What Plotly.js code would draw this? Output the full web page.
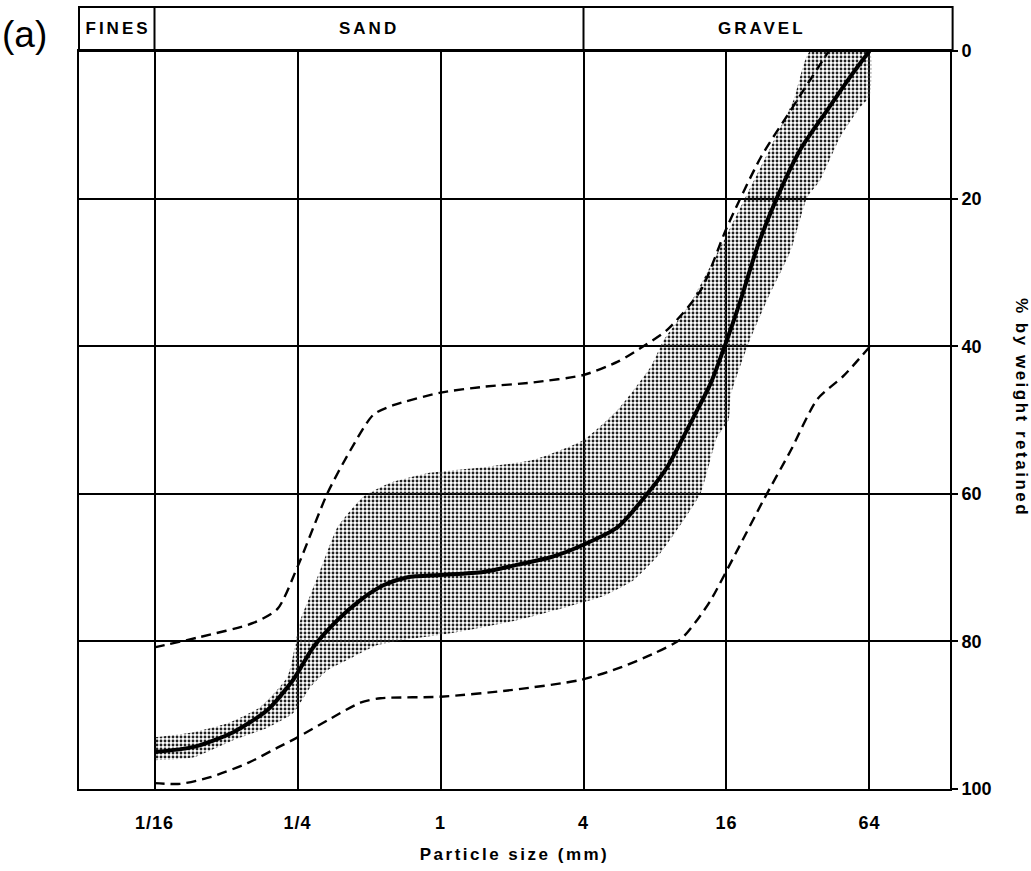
<!DOCTYPE html>
<html>
<head>
<meta charset="utf-8">
<script src="https://cdn.plot.ly/plotly-3.0.1.min.js"></script>
<style>
  html, body { margin: 0; padding: 0; background: #fff; }
  #chart { width: 1031px; height: 871px; }
  g.annotation[data-index="1"] text,
  g.annotation[data-index="2"] text,
  g.annotation[data-index="3"] text { letter-spacing: 3px; }
  g.annotation[data-index="4"] text { letter-spacing: 2.5px; }
  .g-xtitle text { letter-spacing: 2.5px; }
  .xtick text { letter-spacing: 1px; }
</style>
</head>
<body>
<div id="chart"></div>
<script>
// ---- Data (particle size in mm, % by weight retained) ----
const tickVals = [0.0625, 0.25, 1, 4, 16, 64];
const tickText = ['1/16', '1/4', '1', '4', '16', '64'];
const pctTicks = [0, 20, 40, 60, 80, 100];

const sizeClasses = ['FINES', 'SAND', 'GRAVEL'];

// median grading curve (solid)
const medianX = [0.0625, 0.0915, 0.134, 0.1868, 0.2398, 0.2912, 0.3686, 0.4601, 0.5743, 0.727, 1, 1.516, 2.114, 2.908, 4, 5.579, 7.464, 9.0, 11.63, 13.74, 15.89, 18.38, 21.56, 26.17, 32.67, 42.52, 53.08, 64];
const medianY = [95.0, 94.3, 92.3, 89.3, 85.2, 80.8, 77.1, 74.4, 72.4, 71.3, 71.0, 70.6, 69.6, 68.6, 66.9, 64.5, 59.9, 56.4, 49.6, 45.0, 39.6, 33.7, 26.6, 19.8, 13.4, 8.0, 3.5, 0];

// fine envelope (dashed, upper-left)
const fineX = [0.0625, 0.0974, 0.1627, 0.2059, 0.25, 0.3345, 0.4175, 0.5212, 0.6329, 1, 1.516, 2.462, 4, 5.579, 7.311, 9.0, 12.47, 16.11, 22.32, 29.86, 43.11];
const fineY = [80.8, 79.4, 77.5, 75.6, 69.9, 59.9, 54.1, 49.3, 48.0, 46.3, 45.5, 44.9, 43.9, 42.1, 39.8, 37.8, 32.4, 23.8, 14.4, 8.0, 0];

// coarse envelope (dashed, lower-right)
const coarseX = [0.0625, 0.0802, 0.1073, 0.1539, 0.2059, 0.25, 0.3345, 0.4601, 0.5586, 1, 1.973, 3.918, 5.657, 7.835, 10.27, 12.04, 13.74, 17.8, 22.94, 29.86, 38.58, 49.87, 64];
const coarseY = [99.2, 99.3, 98.4, 96.5, 94.4, 93.0, 90.7, 88.3, 87.7, 87.5, 86.6, 85.2, 83.6, 81.7, 79.7, 77.1, 74.4, 67.6, 60.8, 54.1, 47.2, 44.0, 40.1];

// stippled band: upper (finer) edge
const bandTopX = [0.0625, 0.0915, 0.1267, 0.1743, 0.2269, 0.257, 0.2832, 0.3121, 0.3686, 0.473, 0.6156, 0.8827, 1.516, 2.462, 4, 5.579, 7.674, 8.694, 11.31, 16.68, 20.25, 24.59, 30.70, 36.0];
const bandTopY = [93.0, 92.3, 91.1, 88.9, 84.8, 77.1, 73.7, 70.3, 64.5, 60.4, 58.5, 57.2, 56.4, 55.4, 52.7, 48.6, 42.8, 39.2, 34.1, 23.8, 18.4, 13.0, 6.6, 0];
// stippled band: lower (coarser) edge
const bandBotX = [0.0625, 0.0915, 0.134, 0.1868, 0.2398, 0.2832, 0.3345, 0.4293, 0.5434, 0.6974, 1.102, 2.114, 3.434, 4.724, 6.498, 8.456, 10.56, 12.47, 14.62, 16.33, 16.68, 19.56, 23.75, 29.86, 35.02, 39.67, 48.17, 58.49, 64, 64];
const bandBotY = [96.1, 95.7, 93.4, 91.7, 89.7, 86.2, 83.9, 82.1, 80.5, 79.8, 78.9, 77.1, 75.3, 74.0, 71.7, 68.0, 63.6, 59.9, 52.3, 50.0, 46.6, 40.1, 33.7, 27.0, 19.8, 17.5, 11.7, 7.6, 6.2, 0];

// class boundaries (mm)
const classBounds = [0.0625, 4];

// ---- Build ----
const bandX = bandTopX.concat(bandBotX.slice().reverse());
const bandY = bandTopY.concat(bandBotY.slice().reverse());

const FONT = '"Liberation Sans", Arial, sans-serif';

const traces = [
  {
    x: bandX, y: bandY, type: 'scatter', mode: 'lines',
    fill: 'toself', fillcolor: 'rgba(255,255,255,0)',
    fillpattern: { shape: '.', fgcolor: '#222', bgcolor: 'rgba(255,255,255,0)', size: 4, solidity: 0.4 },
    line: { width: 0, shape: 'spline', smoothing: 0.5 },
    hoverinfo: 'skip', showlegend: false
  },
  {
    x: fineX, y: fineY, type: 'scatter', mode: 'lines',
    line: { color: '#000', width: 2.4, dash: '10px,6px', shape: 'spline', smoothing: 0.7 },
    showlegend: false
  },
  {
    x: coarseX, y: coarseY, type: 'scatter', mode: 'lines',
    line: { color: '#000', width: 2.4, dash: '10px,6px', shape: 'spline', smoothing: 0.7 },
    showlegend: false
  },
  {
    x: medianX, y: medianY, type: 'scatter', mode: 'lines',
    line: { color: '#000', width: 4, shape: 'spline', smoothing: 0.7 },
    showlegend: false
  }
];

const headerTop = 1 + 44 / 738;

const shapes = [
  { type: 'rect', xref: 'paper', yref: 'paper', x0: 0, x1: 1.003, y0: 1, y1: headerTop,
    line: { color: '#000', width: 2 } }
];
classBounds.forEach(b => shapes.push({
  type: 'line', xref: 'x', yref: 'paper', x0: b, x1: b, y0: 1, y1: headerTop,
  line: { color: '#000', width: 2 }
}));

const lg = v => Math.log10(v);
const xLeft = lg(2 ** -5.056), xRight = lg(2 ** 7.126);
const centers = [
  (xLeft + lg(classBounds[0])) / 2,
  (lg(classBounds[0]) + lg(classBounds[1])) / 2,
  (lg(classBounds[1]) + xRight) / 2
];

const hdrFont = { family: FONT, size: 17, color: '#000', weight: 'bold' };
const hdrY = (1 + headerTop) / 2;

const annotations = [
  { text: '(a)', xref: 'paper', yref: 'paper', x: -0.062, y: 1.0, yanchor: 'bottom', xanchor: 'center',
    showarrow: false, font: { family: FONT, size: 37, color: '#000' }, yshift: -6 },
  { text: sizeClasses[0], xref: 'x', yref: 'paper', x: centers[0], y: hdrY, yanchor: 'middle',
    showarrow: false, font: hdrFont, xshift: 1 },
  { text: sizeClasses[1], xref: 'x', yref: 'paper', x: centers[1], y: hdrY, yanchor: 'middle',
    showarrow: false, font: hdrFont },
  { text: sizeClasses[2], xref: 'x', yref: 'paper', x: centers[2] - 0.02, y: hdrY, yanchor: 'middle',
    showarrow: false, font: hdrFont },
  { text: '% by weight retained', xref: 'paper', yref: 'paper', x: 1.082, y: 0.517,
    textangle: 90, showarrow: false, xanchor: 'center', yanchor: 'middle',
    font: { family: FONT, size: 17, color: '#000', weight: 'bold' } }
];

const layout = {
  width: 1031, height: 871,
  margin: { l: 79, r: 81, t: 51, b: 82 },
  paper_bgcolor: '#fff', plot_bgcolor: '#fff',
  showlegend: false,
  xaxis: {
    type: 'log', range: [xLeft, xRight],
    tickvals: tickVals, ticktext: tickText,
    showgrid: true, gridcolor: '#000', gridwidth: 2,
    showline: true, linecolor: '#000', linewidth: 2, mirror: true,
    ticks: '', ticklabelstandoff: 16, zeroline: false,
    tickfont: { family: FONT, size: 18, color: '#000', weight: 'bold' },
    title: { text: 'Particle size (mm)', standoff: 17,
      font: { family: FONT, size: 17, color: '#000', weight: 'bold' } },
    automargin: false, fixedrange: true
  },
  yaxis: {
    range: [100, 0], side: 'right',
    tickvals: pctTicks, ticktext: pctTicks.map(String),
    showgrid: true, gridcolor: '#000', gridwidth: 2,
    showline: true, linecolor: '#000', linewidth: 2, mirror: true,
    ticks: 'outside', ticklen: 6, tickwidth: 2, tickcolor: '#000',
    zeroline: false,
    tickfont: { family: FONT, size: 18, color: '#000', weight: 'bold' },
    automargin: false, fixedrange: true
  },
  shapes: shapes,
  annotations: annotations
};

Plotly.newPlot('chart', traces, layout, { displayModeBar: false, staticPlot: true });
</script>
</body>
</html>
